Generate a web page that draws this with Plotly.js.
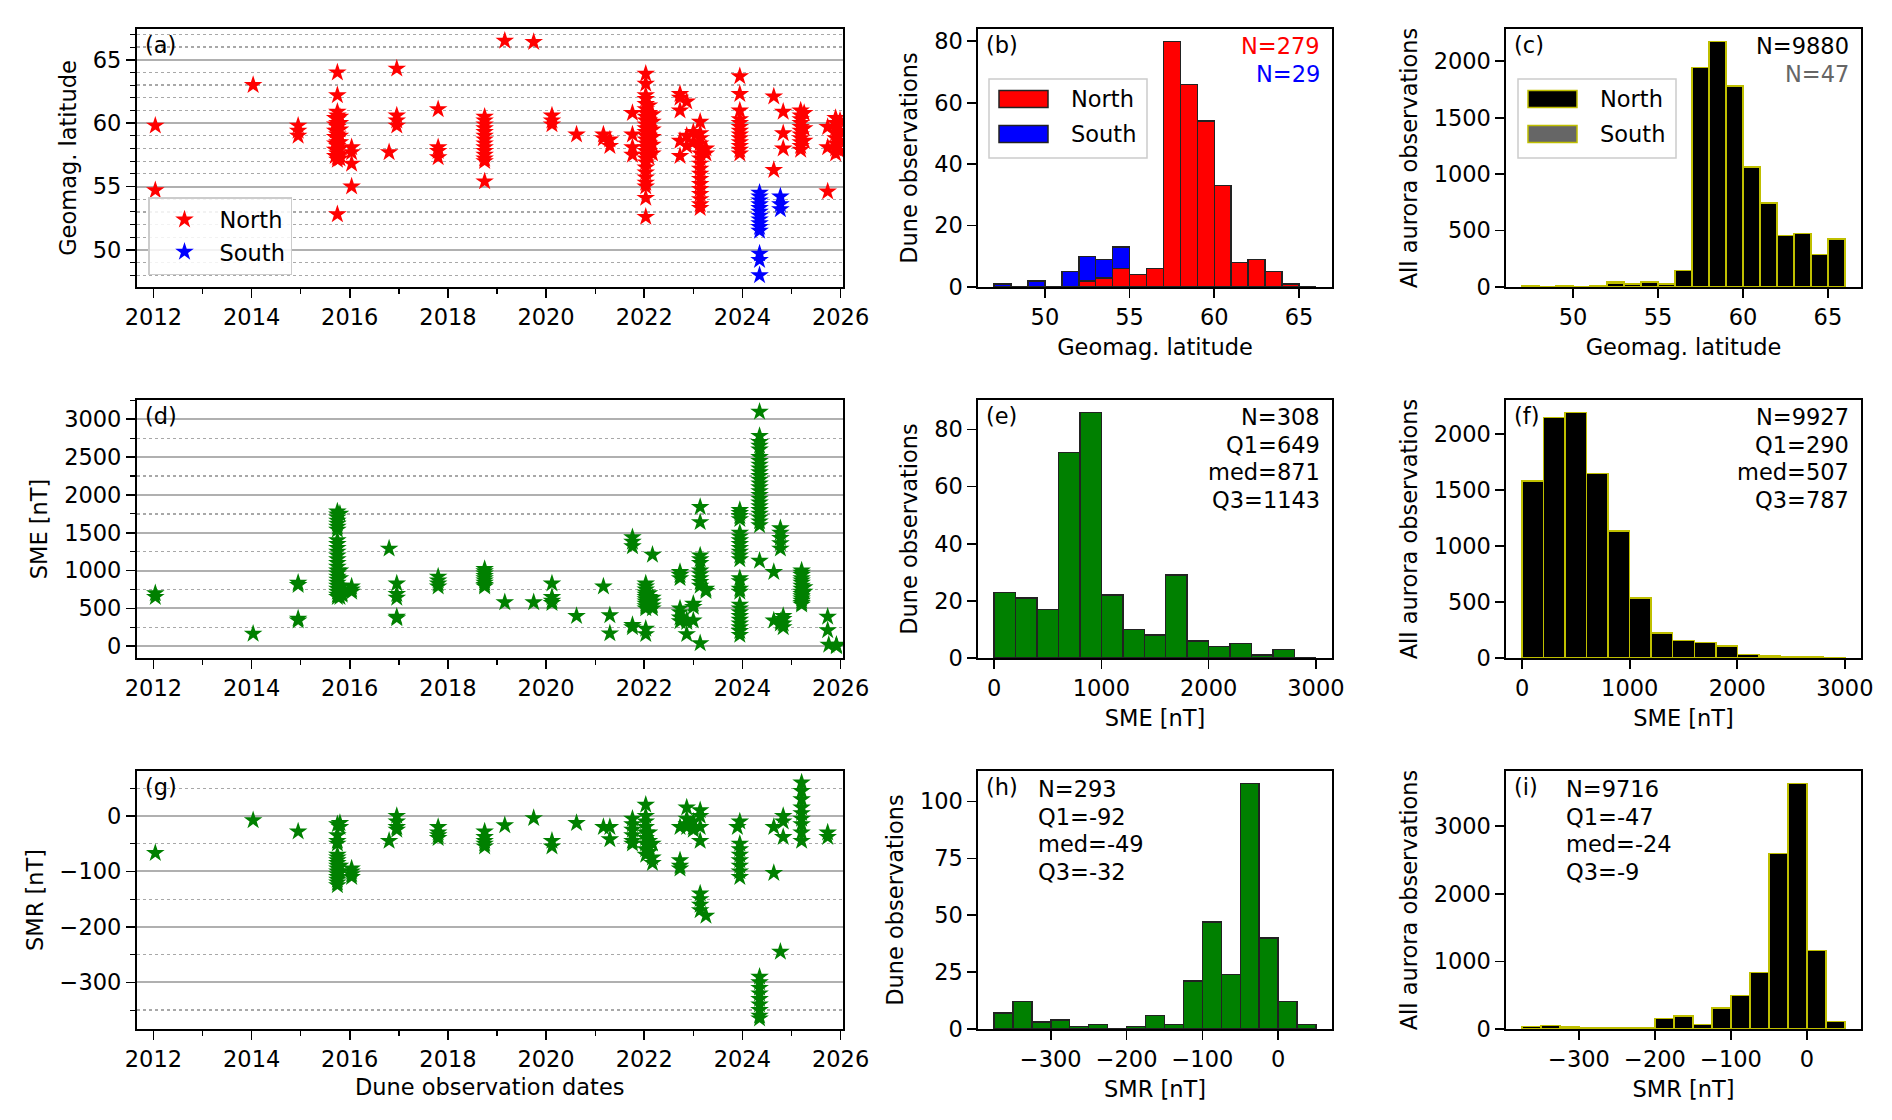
<!DOCTYPE html>
<html><head><meta charset="utf-8">
<script src="https://cdn.plot.ly/plotly-3.0.1.min.js"></script>
<style>html,body{margin:0;padding:0;background:#fff}#chart{width:1892px;height:1120px}</style>
</head><body><div id="chart"></div>
<script>
// ---------------- DATA ----------------
// Geomagnetic latitude of dune observations, grouped by observation date
const latNorthObs = [
 ['2012-01-15',[59.8,54.7]],
 ['2014-01-12',[63.0]],
 ['2014-12-13',[59.8,59.4,59.0]],
 ['2015-09-15',[60.4,59.9,59.4,58.9,58.4,57.9,57.4]],
 ['2015-10-01',[64.0,62.2,60.9,60.6,60.3,60.0,59.7,59.4,59.1,58.8,58.5,58.2,57.9,57.6,57.3,57.1,52.8]],
 ['2015-10-20',[60.5,60.0,59.5,59.0,58.5,58.0,57.5,57.2]],
 ['2016-01-15',[58.1,57.7,56.8,55.0]],
 ['2016-10-20',[57.7]],
 ['2016-12-16',[64.3,60.6,60.2,59.8]],
 ['2017-10-20',[61.1,58.1,57.8,57.3]],
 ['2018-10-01',[60.5,60.2,59.9,59.6,59.3,59.0,58.7,58.4,58.1,57.8,57.5,57.2,57.0,55.4]],
 ['2019-02-28',[66.5]],
 ['2019-10-01',[66.4]],
 ['2020-02-14',[60.6,60.2,59.9]],
 ['2020-08-15',[59.1]],
 ['2021-03-03',[59.1,58.8]],
 ['2021-04-20',[58.7,58.2]],
 ['2021-10-05',[60.8,59.1,58.1,57.5]],
 ['2022-01-12',[63.9,63.1,62.2,61.9,61.5,61.1,60.8,60.5,60.2,59.9,59.6,59.3,59.0,58.7,58.4,58.1,57.8,57.5,57.2,56.9,56.5,56.1,55.7,55.3,55.0,54.1,52.6]],
 ['2022-02-05',[61.4,60.8,60.2,59.6,59.0,58.4,57.8,57.3]],
 ['2022-03-03',[60.7,60.1,59.5,58.9,58.3,57.6]],
 ['2022-09-24',[62.3,62.0,61.0,58.6,57.4]],
 ['2022-11-13',[61.7,59.0,58.2]],
 ['2023-01-01',[59.3,58.5]],
 ['2023-02-21',[60.1,59.2,58.8,58.4,58.0,57.6,57.2,56.8,56.4,56.0,55.6,55.2,54.8,54.4,54.0,53.6,53.3]],
 ['2023-04-05',[58.0,57.6]],
 ['2023-12-13',[63.7,62.3,61.0,60.3,60.0,59.7,59.4,59.1,58.8,58.5,58.2,57.9,57.6]],
 ['2024-08-22',[62.1,56.3]],
 ['2024-10-31',[60.9,59.2,58.0]],
 ['2025-03-10',[61.0,60.6,60.3,60.0,59.7,59.4,59.1,58.8,58.5,58.2,57.9]],
 ['2025-04-05',[60.8,59.6,58.6]],
 ['2025-09-27',[59.7,58.1,54.6]],
 ['2025-11-25',[60.4,60.0,59.6,59.2,58.8,58.4,58.0,57.6]],
 ['2025-12-28',[60.2,59.4,58.6,57.8]]
];
const latSouthObs = [
 ['2024-05-08',[54.5,54.2,53.9,53.6,53.3,53.0,52.7,52.4,52.1,51.8,51.5,49.7,49.2,48.0]],
 ['2024-10-10',[54.2,53.6,53.2]]
];
// SME index [nT] at dune observations
const smeObs = [
 ['2012-01-15',[700,650]],
 ['2014-01-12',[165]],
 ['2014-12-13',[840,810,365,340]],
 ['2015-10-01',[1780,1740,1700,1660,1620,1580,1540,1400,1350,1300,1250,1200,1150,1100,1050,1000,960,920,880,840,800,760,720,680,650]],
 ['2015-10-20',[1750,1000,900,800,700,650]],
 ['2015-11-05',[800,740,700,680]],
 ['2016-01-15',[790,750,720]],
 ['2016-10-20',[1290]],
 ['2016-12-16',[830,690,640,390,370]],
 ['2017-10-20',[920,870,830,790]],
 ['2018-10-01',[1020,990,960,930,900,870,840,810,790]],
 ['2019-02-28',[580]],
 ['2019-10-01',[580]],
 ['2020-02-14',[830,650,600,570]],
 ['2020-08-15',[400]],
 ['2021-03-03',[790]],
 ['2021-04-20',[410,170]],
 ['2021-10-05',[1440,1380,1320,280,250]],
 ['2022-01-12',[830,790,750,710,680,650,620,590,560,530,500,230,160]],
 ['2022-02-05',[700,650,600,550]],
 ['2022-03-03',[1210,640,590,540,500]],
 ['2022-09-24',[980,940,900,500,450,380,330]],
 ['2022-11-13',[350,320,160]],
 ['2023-01-01',[560,520,340]],
 ['2023-02-21',[1840,1640,1200,1150,1100,1000,950,900,850,800,40]],
 ['2023-04-05',[760,730]],
 ['2023-12-13',[1800,1760,1720,1680,1500,1450,1400,1350,1300,1250,1200,1150,900,860,760,720,550,500,450,400,350,300,250,200,150]],
 ['2024-05-08',[3100,2780,2700,2650,2600,2500,2450,2400,2350,2300,2250,2200,2150,2100,2050,2000,1950,1900,1850,1800,1750,1700,1650,1600,1130]],
 ['2024-08-22',[980,340]],
 ['2024-10-10',[1560,1500,1430,1360,1290,330,300]],
 ['2024-10-31',[400,360,300,250]],
 ['2025-03-17',[1000,970,940,900,870,840,800,760,720,690,660,630,600,570,550]],
 ['2025-04-05',[780,720]],
 ['2025-09-27',[390,210]],
 ['2025-10-05',[20]],
 ['2025-12-01',[20,0,10]]
];
// SMR index [nT] at dune observations
const smrObs = [
 ['2012-01-15',[-67]],
 ['2014-01-12',[-8]],
 ['2014-12-13',[-28]],
 ['2015-10-01',[-15,-35,-45,-50,-70,-75,-80,-85,-90,-95,-100,-105,-110,-115,-120,-125]],
 ['2015-10-20',[-13,-20,-90,-100]],
 ['2016-01-15',[-95,-100,-105,-110]],
 ['2016-10-20',[-45]],
 ['2016-12-16',[0,-10,-20,-25]],
 ['2017-10-20',[-20,-30,-35,-40]],
 ['2018-10-01',[-28,-38,-45,-50,-55]],
 ['2019-02-28',[-17]],
 ['2019-10-01',[-4]],
 ['2020-02-14',[-45,-55]],
 ['2020-08-15',[-13]],
 ['2021-03-03',[-20]],
 ['2021-04-20',[-20,-42]],
 ['2021-10-05',[-5,-15,-25,-35,-45,-50]],
 ['2022-01-12',[20,0,-10,-20,-30,-40,-50,-60,-70]],
 ['2022-02-05',[-30,-45,-55,-65]],
 ['2022-03-03',[-50,-75,-85]],
 ['2022-09-24',[-20,-80,-90,-95]],
 ['2022-11-13',[15,-5,-15,-20]],
 ['2023-01-01',[-10,-20,-25]],
 ['2023-02-21',[10,0,-20,-45,-140,-150,-160,-170]],
 ['2023-04-05',[-180]],
 ['2023-11-25',[-20]],
 ['2023-12-13',[-10,-50,-60,-70,-80,-90,-100,-110]],
 ['2024-05-08',[-290,-300,-310,-320,-330,-340,-350,-360,-365]],
 ['2024-08-22',[-20,-103]],
 ['2024-10-10',[-245]],
 ['2024-10-31',[0,-10,-38]],
 ['2025-03-17',[60,45,30,15,5,-5,-15,-30,-45]],
 ['2025-09-27',[-30,-38]]
];
// Histogram bins and counts
const latBins = [47.5,48.5,49.5,50.5,51.5,52.5,53.5,54.5,55.5,56.5,57.5,58.5,59.5,60.5,61.5,62.5,63.5,64.5,65.5];
const duneLatNorth = [0,0,0,0,0,2,3,6,4,6,80,66,54,33,8,9,5,1,0];
const duneLatSouth = [1,0,2,0,5,8,6,7,0,0,0,0,0,0,0,0,0,0,0];
const allLatNorth = [5,0,5,0,4,32,21,40,22,147,1944,2177,1782,1062,743,457,475,286,425];
const allLatSouth = [3,0,3,0,4,12,8,10,7,0,0,0,0,0,0,0,0,0,0];
const smeBins = [100,300,500,700,900,1100,1300,1500,1700,1900,2100,2300,2500,2700,2900];
const duneSME = [23,21,17,72,86,22,10,8,29,6,4,5,1,3,0];
const allSME = [1580,2146,2194,1648,1136,537,224,158,140,107,30,18,10,8,3];
const smrBins = [-362.5,-337.5,-312.5,-287.5,-262.5,-237.5,-212.5,-187.5,-162.5,-137.5,-112.5,-87.5,-62.5,-37.5,-12.5,12.5,37.5];
const duneSMR = [7,12,3,4,1,2,0,1,6,2,21,47,24,108,40,12,2];
const allSMR = [40,50,30,20,25,25,25,158,192,64,311,493,839,2595,3636,1164,108];
// Texts
const panelLabels = ['(a)','(b)','(c)','(d)','(e)','(f)','(g)','(h)','(i)'];
const statsE = ['N=308','Q1=649','med=871','Q3=1143'];
const statsF = ['N=9927','Q1=290','med=507','Q3=787'];
const statsH = ['N=293','Q1=-92','med=-49','Q3=-32'];
const statsI = ['N=9716','Q1=-47','med=-24','Q3=-9'];

// ---------------- BUILD ----------------
function flat(obs){const x=[],y=[];obs.forEach(([d,vs])=>vs.forEach(v=>{x.push(d);y.push(v);}));return {x,y};}
const W=1892,H=1120,F='DejaVu Sans',FS=22.5;
const cols=[[136.5,843],[978,1332],[1506,1861]];
const rows=[[29,287],[400,658],[771,1029]];
const px=v=>v/W, py=v=>1-v/H;
const font={family:F,size:FS,color:'#000'};

const ln=flat(latNorthObs), ls=flat(latSouthObs), sm=flat(smeObs), sr=flat(smrObs);
const star=(c)=>({symbol:'star',size:14,color:c,line:{width:0}});
const traces=[
 {type:'scatter',mode:'markers',x:ln.x,y:ln.y,marker:star('#ff0000'),name:'North',legendgroup:'n',legendrank:1,xaxis:'x',yaxis:'y',showlegend:true},
 {type:'scatter',mode:'markers',x:ls.x,y:ls.y,marker:star('#0000ff'),name:'South',legendgroup:'s',legendrank:2,xaxis:'x',yaxis:'y',showlegend:true},
 {type:'bar',x:latBins,y:duneLatNorth,xaxis:'x2',yaxis:'y2',marker:{color:'#ff0000',line:{color:'#222',width:1.5}},showlegend:false},
 {type:'bar',x:latBins,y:duneLatSouth,xaxis:'x2',yaxis:'y2',marker:{color:'#0000ff',line:{color:'#222',width:1.5}},showlegend:false},
 {type:'bar',x:latBins,y:allLatNorth,xaxis:'x3',yaxis:'y3',marker:{color:'#000',line:{color:'#bfbf00',width:1.5}},showlegend:false},
 {type:'bar',x:latBins,y:allLatSouth,xaxis:'x3',yaxis:'y3',marker:{color:'#666666',line:{color:'#bfbf00',width:1.5}},showlegend:false},
 {type:'scatter',mode:'markers',x:sm.x,y:sm.y,marker:star('#008000'),xaxis:'x4',yaxis:'y4',showlegend:false},
 {type:'bar',x:smeBins,y:duneSME,xaxis:'x5',yaxis:'y5',marker:{color:'#008000',line:{color:'#222',width:1.5}},showlegend:false},
 {type:'bar',x:smeBins,y:allSME,xaxis:'x6',yaxis:'y6',marker:{color:'#000',line:{color:'#bfbf00',width:1.5}},showlegend:false},
 {type:'scatter',mode:'markers',x:sr.x,y:sr.y,marker:star('#008000'),xaxis:'x7',yaxis:'y7',showlegend:false},
 {type:'bar',x:smrBins,y:duneSMR,xaxis:'x8',yaxis:'y8',marker:{color:'#008000',line:{color:'#222',width:1.5}},showlegend:false},
 {type:'bar',x:smrBins,y:allSMR,xaxis:'x9',yaxis:'y9',marker:{color:'#000',line:{color:'#bfbf00',width:1.5}},showlegend:false}
];
traces.forEach(t=>{t.hoverinfo='skip';});

function base(extra){return Object.assign({showline:true,linecolor:'#000',linewidth:1.6,mirror:true,ticks:'outside',ticklen:9,tickwidth:1.6,tickcolor:'#000',tickfont:font,showgrid:false,zeroline:false,automargin:false,fixedrange:true},extra);}
function ttl(t,s){return {text:t,font:{family:F,size:FS,color:'#000'},standoff:s};}
function dateX(dom,anchor,title){return base({type:'date',domain:dom,anchor:anchor,range:['2011-08-28','2026-01-19'],tick0:'2012-01-01',dtick:'M24',tickformat:'%Y',minor:{dtick:'M12',tick0:'2012-01-01',ticks:'outside',ticklen:5,tickwidth:1.2,tickcolor:'#000',showgrid:false},title:title?ttl(title,8):undefined});}
function gridY(dom,anchor,range,dtick,mdtick,title){return base({domain:dom,anchor:anchor,range:range,dtick:dtick,tick0:0,showgrid:true,gridcolor:'#b0b0b0',gridwidth:2,minor:{dtick:mdtick,tick0:0,ticks:'outside',ticklen:5,tickwidth:1.2,tickcolor:'#000',showgrid:true,gridcolor:'#a8a8a8',griddash:'dot',gridwidth:1.3},title:ttl(title,10)});}
function histX(dom,anchor,range,dtick,title){return base({domain:dom,anchor:anchor,range:range,dtick:dtick,tick0:0,mirror:true,title:ttl(title,10)});}
function histY(dom,anchor,range,dtick,title){return base({domain:dom,anchor:anchor,range:range,dtick:dtick,tick0:0,title:ttl(title,10)});}

const cd=i=>[px(cols[i][0]),px(cols[i][1])];
const rd=i=>[py(rows[i][1]),py(rows[i][0])];

const layout={
 width:W,height:H,margin:{l:0,r:0,t:0,b:0},paper_bgcolor:'#fff',plot_bgcolor:'#fff',
 barmode:'stack',bargap:0,font:font,hovermode:false,
 xaxis:dateX(cd(0),'y',null),
 yaxis:gridY(rd(0),'x',[47.07,67.43],5,1,'Geomag. latitude'),
 xaxis2:histX(cd(1),'y2',[46.05,66.95],5,'Geomag. latitude'),
 yaxis2:histY(rd(0),'x2',[0,84],20,'Dune observations'),
 xaxis3:histX(cd(2),'y3',[46.05,66.95],5,'Geomag. latitude'),
 yaxis3:histY(rd(0),'x3',[0,2286],500,'All aurora observations'),
 xaxis4:dateX(cd(0),'y4',null),
 yaxis4:gridY(rd(1),'x4',[-155,3255],500,250,'SME [nT]'),
 xaxis5:histX(cd(1),'y5',[-150,3150],1000,'SME [nT]'),
 yaxis5:histY(rd(1),'x5',[0,90.3],20,'Dune observations'),
 xaxis6:histX(cd(2),'y6',[-150,3150],1000,'SME [nT]'),
 yaxis6:histY(rd(1),'x6',[0,2304],500,'All aurora observations'),
 xaxis7:dateX(cd(0),'y7','Dune observation dates'),
 yaxis7:gridY(rd(2),'x7',[-384,81],100,50,'SMR [nT]'),
 xaxis8:histX(cd(1),'y8',[-396,71],100,'SMR [nT]'),
 yaxis8:histY(rd(2),'x8',[0,113.4],25,'Dune observations'),
 xaxis9:histX(cd(2),'y9',[-396,71],100,'SMR [nT]'),
 yaxis9:histY(rd(2),'x9',[0,3818],1000,'All aurora observations'),
 legend:{x:px(148),y:py(197),xanchor:'left',yanchor:'top',traceorder:'normal',bgcolor:'rgba(255,255,255,0.85)',bordercolor:'#cccccc',borderwidth:1.5,font:font,itemwidth:60,tracegroupgap:6},
 annotations:[],shapes:[]
};
layout.xaxis8.tickvals=[-300,-200,-100,0];
layout.xaxis9.tickvals=[-300,-200,-100,0];

// panel labels
panelLabels.forEach((t,i)=>{
 const c=cols[i%3], r=rows[Math.floor(i/3)];
 layout.annotations.push({text:t,xref:'paper',yref:'paper',x:px(c[0]+6),y:py(r[0]+16),xanchor:'left',yanchor:'middle',showarrow:false,font:font});
});
function stat(lines,colors,xpx,anchor,topPx){
 lines.forEach((t,k)=>layout.annotations.push({text:t,xref:'paper',yref:'paper',x:px(xpx),y:py(topPx+k*27.5),xanchor:anchor,yanchor:'middle',showarrow:false,font:{family:F,size:FS,color:colors[k]||'#000'}}));
}
stat(['N=279','N=29'],['#ff0000','#0000ff'],cols[1][1]-10,'right',rows[0][0]+17);
stat(['N=9880','N=47'],['#000','#666666'],cols[2][1]-10,'right',rows[0][0]+17);
stat(statsE,[],cols[1][1]-10,'right',rows[1][0]+17);
stat(statsF,[],cols[2][1]-10,'right',rows[1][0]+17);
stat(statsH,[],cols[1][0]+58,'left',rows[2][0]+18);
stat(statsI,[],cols[2][0]+58,'left',rows[2][0]+18);

// bar legends for (b) and (c)
function barLegend(x0,items){
 layout.shapes.push({type:'rect',xref:'paper',yref:'paper',x0:px(x0),x1:px(x0+158),y0:py(79),y1:py(158),line:{color:'#cccccc',width:1.5},fillcolor:'rgba(255,255,255,0.85)',layer:'above'});
 items.forEach((it,k)=>{
  const yc=99+k*35;
  layout.shapes.push({type:'rect',xref:'paper',yref:'paper',x0:px(x0+10),x1:px(x0+59),y0:py(yc-8.5),y1:py(yc+8.5),fillcolor:it.fill,line:{color:it.edge,width:1.5},layer:'above'});
  layout.annotations.push({text:it.name,xref:'paper',yref:'paper',x:px(x0+80),y:py(yc),xanchor:'left',yanchor:'middle',showarrow:false,font:font});
 });
}
barLegend(989,[{name:'North',fill:'#ff0000',edge:'#222'},{name:'South',fill:'#0000ff',edge:'#222'}]);
barLegend(1518,[{name:'North',fill:'#000000',edge:'#bfbf00'},{name:'South',fill:'#666666',edge:'#bfbf00'}]);

Plotly.newPlot('chart',traces,layout,{displayModeBar:false,staticPlot:true});
</script></body></html>
